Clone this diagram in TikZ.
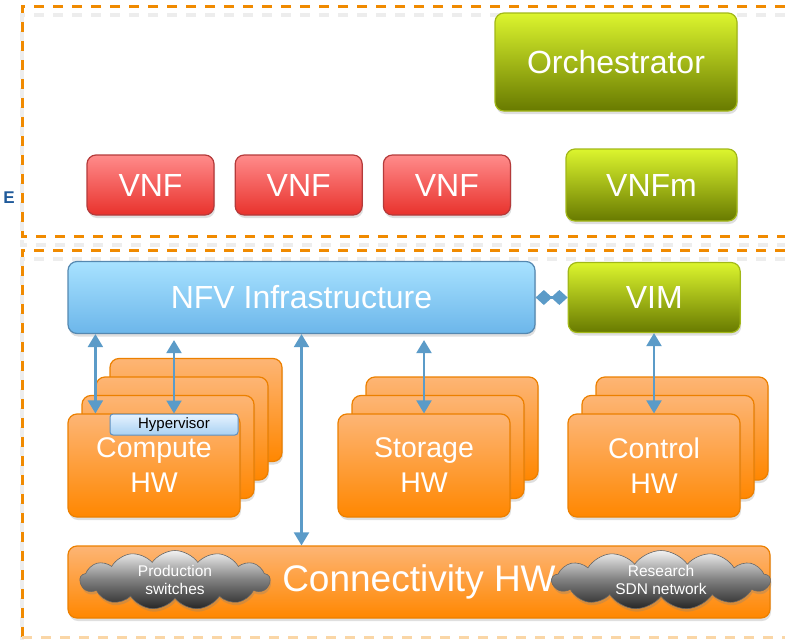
\documentclass[tikz,border=0pt]{standalone}
\usepackage{fontspec}
\setmainfont{Liberation Sans}
\setsansfont{Liberation Sans}
\usetikzlibrary{positioning}
\usetikzlibrary{arrows.meta}
\usetikzlibrary{shapes.symbols}
\usetikzlibrary{shadows}

\definecolor{frameorange}{HTML}{F08A00}
\definecolor{tagblue}{HTML}{1F5A9A}
\definecolor{linkblue}{HTML}{5B9BC8}
\definecolor{vnftop}{HTML}{FF8B8B}
\definecolor{vnfbot}{HTML}{E8322C}
\definecolor{vnfline}{HTML}{B43A3A}
\definecolor{manotop}{HTML}{DCF52E}
\definecolor{manobot}{HTML}{687A00}
\definecolor{manoline}{HTML}{A2B818}
\definecolor{nfvtop}{HTML}{A8E2FF}
\definecolor{nfvbot}{HTML}{6CB6EA}
\definecolor{nfvline}{HTML}{5588B0}
\definecolor{hwtop}{HTML}{FDB575}
\definecolor{hwbot}{HTML}{FF8700}
\definecolor{hwline}{HTML}{EC8000}
\definecolor{hyptop}{HTML}{E6F3FF}
\definecolor{hypbot}{HTML}{A9D1F2}
\definecolor{hypline}{HTML}{5E8FBF}

\tikzset{every picture/.style={/utils/exec={\sffamily}}}
\tikzset{node distance=20pt, % gap between the VNF boxes
  every node/.style={align=center},
  frame/.style={ % dashed domain borders
    draw=frameorange, line width=3pt, dash pattern=on 10pt off 9pt,
    preaction={draw=black!7, line width=4pt, dash pattern=on 10pt off 9pt,
      transform canvas={yshift=-9pt}}},
  block/.style={ % rounded box with a soft shadow
    rounded corners=9pt, inner sep=0pt, text=white, line width=1.2pt,
    drop shadow={shadow xshift=1pt, shadow yshift=-3pt, opacity=0.25}},
  vnf/.style={block, draw=vnfline, top color=vnftop, bottom color=vnfbot,
    minimum width=127pt, minimum height=60pt, font=\fontsize{32}{38}\selectfont},
  mano/.style={block, draw=manoline, top color=manotop, bottom color=manobot,
    font=\fontsize{32}{38}\selectfont},
  nfv/.style={block, draw=nfvline, top color=nfvtop, bottom color=nfvbot,
    minimum width=467pt, minimum height=72pt, font=\fontsize{32}{38}\selectfont},
  hwbox/.style={block, draw=hwline, top color=hwtop, bottom color=hwbot,
    minimum width=172pt, minimum height=103pt, font=\fontsize{28.5}{35}\selectfont},
  hyper/.style={draw=hypline, top color=hyptop, bottom color=hypbot, line width=1pt,
    rounded corners=3pt, inner sep=0pt, minimum width=128pt, minimum height=21pt,
    font=\fontsize{15}{18}\selectfont},
  cloudy/.style={cloud, cloud puffs=13, cloud puff arc=110, aspect=3.6,
    inner sep=0pt, minimum height=55pt, draw=black!60, line width=0.6pt,
    top color=black!5, bottom color=black!85, middle color=black!50,
    text=white, font=\fontsize{15.5}{18}\selectfont,
    drop shadow={shadow xshift=1pt, shadow yshift=-3pt, opacity=0.3}},
  link/.style={draw=linkblue, line width=2.2pt,
    {Triangle[width=15pt,length=13pt]}-{Triangle[width=15pt,length=13pt]}},
  diamlink/.style={draw=linkblue, line width=2.2pt,
    {Diamond[width=15pt,length=16.5pt]}-{Diamond[width=15pt,length=16.5pt]}}}

\begin{document}
\begin{tikzpicture}[x=1pt, y=-1pt]
  \useasboundingbox (0,0) rectangle (785,640);

  % management domain and infrastructure domain
  \draw[frame] (785,6) -| (22,236) -- (785,236);
  \draw[frame] (785,250) -| (22,637);
  \draw[draw=frameorange!35, line width=3pt, dash pattern=on 10pt off 9pt]
    (22,637) -- (785,637);

  \node[text=tagblue, font=\bfseries\fontsize{17}{17}\selectfont] (tag) at (9,198) {E};

  \node[mano, minimum width=242pt, minimum height=98pt] (orch) at (616,62) {Orchestrator};
  \node[vnf] (vnf1) at (150.5,185) {VNF};
  \node[vnf, right=of vnf1] (vnf2) {VNF};
  \node[vnf, right=of vnf2] (vnf3) {VNF};
  \node[mano, minimum width=171pt, minimum height=72pt] (vnfm) at (651.5,185) {VNFm};

  \node[nfv] (nfvi) at (301.5,297.5) {NFV Infrastructure};
  \node[mano, minimum width=172pt, minimum height=70pt, right=32pt of nfvi] (vim) {VIM};
  \draw[diamlink] (nfvi.east) -- (nfvi.east -| vim.west);

  % hardware stacks, back layers first
  \foreach \k in {3,2,1}
    \node[hwbox] (comp\k) at (154+14*\k, 465.5-18.5*\k) {};
  \foreach \k in {2,1} {
    \node[hwbox] (stor\k) at (424+14*\k, 465.5-18.5*\k) {};
    \node[hwbox] (ctrl\k) at (654+14*\k, 465.5-18.5*\k) {};
  }
  \node[hwbox] (comp) at (154,465.5) {Compute\\HW};
  \node[hwbox] (stor) at (424,465.5) {Storage\\HW};
  \node[hwbox] (ctrl) at (654,465.5) {Control\\HW};
  \node[hyper] (hyp) at (174,424.5) {Hypervisor};

  \node[hwbox, minimum width=702pt, minimum height=72pt,
    font=\fontsize{37}{42}\selectfont] (conn) at (419,582) {Connectivity HW};
  \node[cloudy, minimum width=190pt] (prodsw) at (175,580) {Production\\switches};
  \node[cloudy, minimum width=218pt] (sdnnet) at (661,580) {Research\\SDN network};

  % links down to the hardware
  \coordinate (cmpa) at ([xshift=28pt]comp.north west);
  \draw[link] (nfvi.south -| cmpa) -- (cmpa);
  \draw[link, shorten <=6pt] (nfvi.south -| hyp.north) -- (hyp.north);
  \draw[link] (nfvi.south) -- (conn.north -| nfvi.south);
  \draw[link, shorten <=6pt] (nfvi.south -| stor.north) -- (stor.north);
  \draw[link] (ctrl.north |- vim.south) -- (ctrl.north);
\end{tikzpicture}
\end{document}
